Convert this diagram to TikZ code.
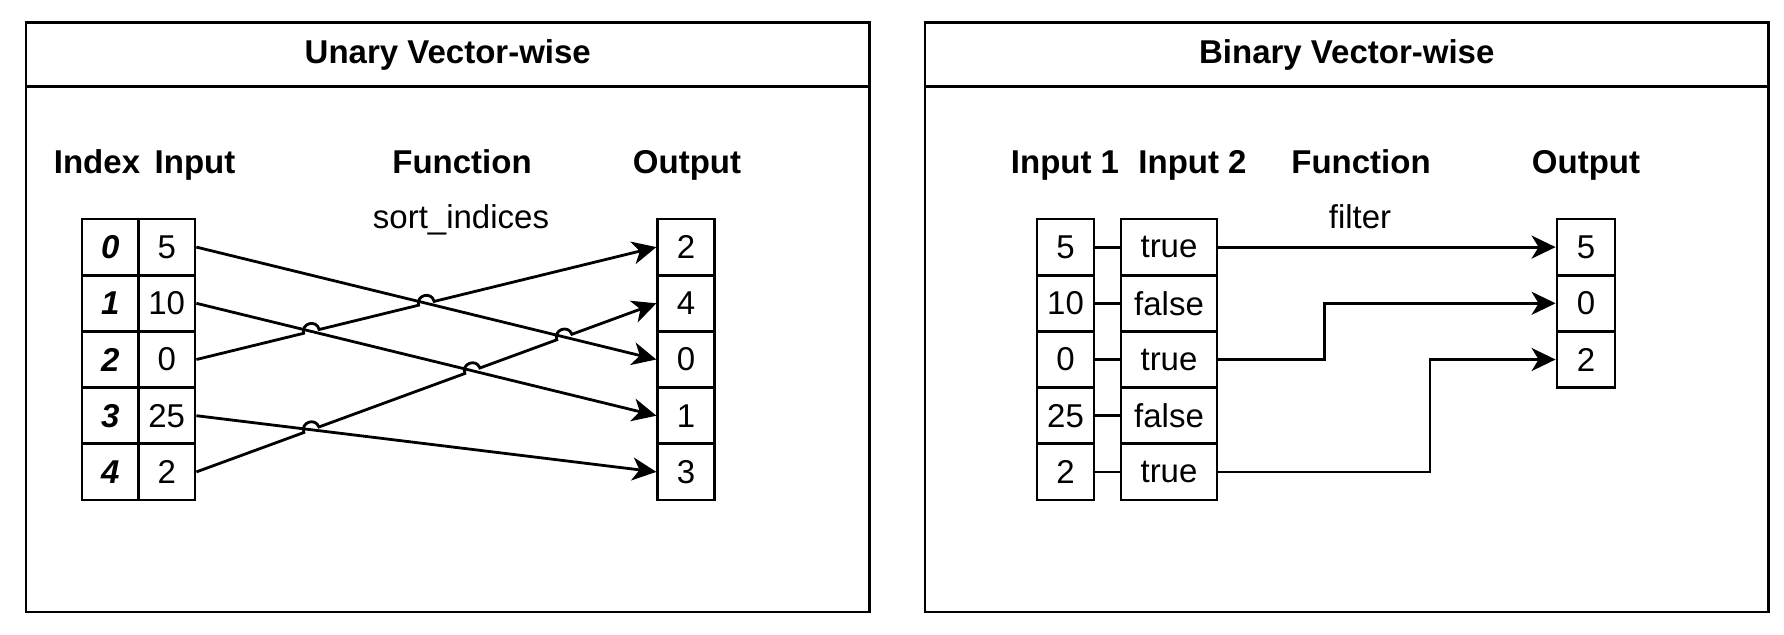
\documentclass[tikz,border=0pt]{standalone}
\usepackage{fontspec}
\setmainfont{Liberation Sans}
\usetikzlibrary{arrows.meta,calc,intersections}

% radius of the small hop where one connector crosses another
\def\jr{4pt}

\begin{document}
\begin{tikzpicture}[x=0.5pt,y=-0.5pt,
  font=\fontsize{16.5}{20}\selectfont,
  frame/.style={draw, line width=1.4pt, inner sep=0pt, minimum width=421.75pt},
  cell/.style={draw, line width=1.4pt, inner sep=0pt, minimum height=28.1pt, minimum width=28.25pt},
  hdr/.style={anchor=base, inner sep=0pt, font=\fontsize{16.5}{20}\selectfont\bfseries},
  fname/.style={anchor=base, inner sep=0pt},
  arr/.style={line width=1.4pt, -{Stealth[length=12pt, width=11.5pt, inset=3.5pt]}},
  wire/.style={line width=1.4pt},
  hop/.style={bend left=90, looseness=1.7}]
\useasboundingbox (0,0) rectangle (1784,634);

% ---------- Unary vector-wise panel ----------
\node[frame, minimum height=32pt, font=\fontsize{16.5}{20}\selectfont\bfseries] (ut) at (447.75,54.7) {Unary Vector-wise};
\node[frame, minimum height=262.65pt] (ub) at (447.75,349.35) {};

\node[hdr] (uh0) at (97,173) {Index};
\node[hdr] (uh1) at (195,173) {Input};
\node[hdr] (uh2) at (462,173) {Function};
\node[hdr] (uh3) at (687,173) {Output};
\node[fname] (uf) at (461,228) {sort\_indices};

\foreach \v [count=\k from 0] in {5,10,0,25,2} {
  \node[cell] (ix\k) at (110.25,{247.1+56.2*\k}) {\bfseries\itshape \k};
  \node[cell] (in\k) at (166.75,{247.1+56.2*\k}) {\v};
}
\foreach \v [count=\k from 0] in {2,4,0,1,3} {
  \node[cell] (out\k) at (686,{247.1+56.2*\k}) {\v};
}

% straight connectors
\draw[arr, name path=p0] (in0.east) -- (out2.west);
\draw[arr, name path=p1] (in1.east) -- (out3.west);
\draw[arr, name path=p3] (in3.east) -- (out4.west);

% connectors that hop over the others
\path[name path=p2] (in2.east) -- (out0.west);
\path[name path=p4] (in4.east) -- (out1.west);
\path[name intersections={of=p2 and p1, by=x21}];
\path[name intersections={of=p2 and p0, by=x20}];
\path[name intersections={of=p4 and p3, by=x43}];
\path[name intersections={of=p4 and p1, by=x41}];
\path[name intersections={of=p4 and p0, by=x40}];

\draw[arr] (in2.east)
  -- ($(x21)!\jr!(in2.east)$) to[hop] ($(x21)!\jr!(out0.west)$)
  -- ($(x20)!\jr!(in2.east)$) to[hop] ($(x20)!\jr!(out0.west)$)
  -- (out0.west);
\draw[arr] (in4.east)
  -- ($(x43)!\jr!(in4.east)$) to[hop] ($(x43)!\jr!(out1.west)$)
  -- ($(x41)!\jr!(in4.east)$) to[hop] ($(x41)!\jr!(out1.west)$)
  -- ($(x40)!\jr!(in4.east)$) to[hop] ($(x40)!\jr!(out1.west)$)
  -- (out1.west);

% ---------- Binary vector-wise panel ----------
\node[frame, minimum height=32pt, font=\fontsize{16.5}{20}\selectfont\bfseries] (bt) at (1346.75,54.7) {Binary Vector-wise};
\node[frame, minimum height=262.65pt] (bb) at (1346.75,349.35) {};

\node[hdr] (bh0) at (1065,173) {Input 1};
\node[hdr] (bh1) at (1192.5,173) {Input 2};
\node[hdr] (bh2) at (1361,173) {Function};
\node[hdr] (bh3) at (1586,173) {Output};
\node[fname] (bf) at (1360,228) {filter};

\foreach \v [count=\k from 0] in {5,10,0,25,2} {
  \node[cell, minimum width=28.5pt] (a\k) at (1065.5,{247.1+56.2*\k}) {\v};
}
\foreach \v [count=\k from 0] in {true,false,true,false,true} {
  \node[cell, minimum width=48pt] (b\k) at (1169,{247.1+56.2*\k}) {\v};
}
\foreach \v [count=\k from 0] in {5,0,2} {
  \node[cell, minimum width=29pt] (c\k) at (1586,{247.1+56.2*\k}) {\v};
}

\foreach \k in {0,...,4} {
  \draw[wire] (a\k.east) -- (b\k.west);
}

\coordinate (k1) at (1324.4,0);
\coordinate (k2) at (1430,0);
\draw[arr] (b0.east) -- (c0.west);
\draw[arr] (b2.east) -| (k1 |- c1.west) -- (c1.west);
\draw[arr] (b4.east) -| (k2 |- c2.west) -- (c2.west);
\end{tikzpicture}
\end{document}
